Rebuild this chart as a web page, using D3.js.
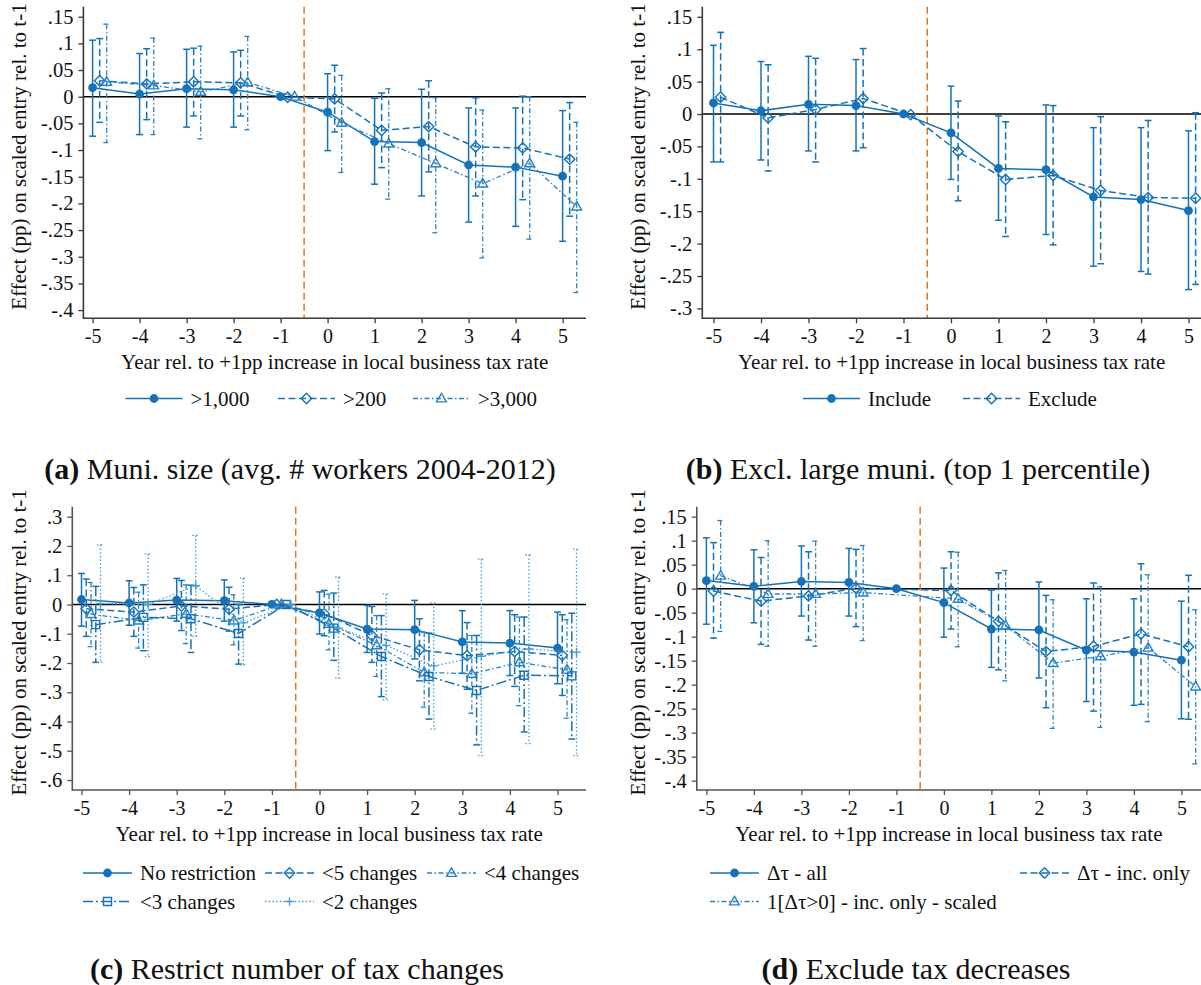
<!DOCTYPE html>
<html>
<head>
<meta charset="utf-8">
<script src="https://cdn.jsdelivr.net/npm/d3@7"></script>
<style>
  body { margin: 0; background: #fff; }
  svg { display: block; }
  text { font-family: "Liberation Serif", "Times New Roman", serif; fill: #111; }
</style>
</head>
<body>
<svg id="fig" width="1201" height="985"></svg>
<script>
// Event-time grid and axis labels
const years = [-5, -4, -3, -2, -1, 0, 1, 2, 3, 4, 5];
const xTickLabels = ["-5", "-4", "-3", "-2", "-1", "0", "1", "2", "3", "4", "5"];

const yTicksA = [0.15, 0.1, 0.05, 0, -0.05, -0.1, -0.15, -0.2, -0.25, -0.3, -0.35, -0.4];
const yLabelsA = [".15", ".1", ".05", "0", "-.05", "-.1", "-.15", "-.2", "-.25", "-.3", "-.35", "-.4"];
const yTicksB = [0.15, 0.1, 0.05, 0, -0.05, -0.1, -0.15, -0.2, -0.25, -0.3];
const yLabelsB = [".15", ".1", ".05", "0", "-.05", "-.1", "-.15", "-.2", "-.25", "-.3"];
const yTicksC = [0.3, 0.2, 0.1, 0, -0.1, -0.2, -0.3, -0.4, -0.5, -0.6];
const yLabelsC = [".3", ".2", ".1", "0", "-.1", "-.2", "-.3", "-.4", "-.5", "-.6"];
const yTicksD = [0.15, 0.1, 0.05, 0, -0.05, -0.1, -0.15, -0.2, -0.25, -0.3, -0.35, -0.4];
const yLabelsD = [".15", ".1", ".05", "0", "-.05", "-.1", "-.15", "-.2", "-.25", "-.3", "-.35", "-.4"];

// Baseline specification (shared by all four panels)
const baseCoef = [0.017, 0.005, 0.015, 0.013, 0, -0.029, -0.084, -0.086, -0.128, -0.132, -0.149];
const baseLo   = [-0.074, -0.071, -0.057, -0.057, null, -0.101, -0.164, -0.186, -0.235, -0.243, -0.271];
const baseHi   = [0.106, 0.081, 0.089, 0.084, null, 0.043, -0.003, 0.014, -0.021, -0.021, -0.026];

// (a) municipality size
const size200Coef = [0.030, 0.024, 0.028, 0.026, -0.001, -0.004, -0.063, -0.056, -0.094, -0.096, -0.117];
const size200Lo   = [-0.048, -0.043, -0.036, -0.036, null, -0.066, -0.133, -0.141, -0.186, -0.193, -0.224];
const size200Hi   = [0.109, 0.090, 0.091, 0.087, null, 0.059, 0.007, 0.030, -0.002, 0.001, -0.011];
const size3000Coef = [0.028, 0.021, 0.009, 0.027, 0, -0.049, -0.088, -0.125, -0.163, -0.125, -0.206];
const size3000Lo   = [-0.086, -0.071, -0.079, -0.062, null, -0.142, -0.192, -0.255, -0.302, -0.267, -0.367];
const size3000Hi   = [0.136, 0.110, 0.095, 0.113, null, 0.040, 0.015, -0.002, -0.025, 0.000, -0.048];

// (b) excluding the largest municipalities
const exclCoef = [0.026, -0.006, 0.007, 0.024, -0.001, -0.058, -0.101, -0.095, -0.118, -0.129, -0.130];
const exclLo   = [-0.074, -0.088, -0.074, -0.052, null, -0.134, -0.189, -0.202, -0.231, -0.247, -0.263];
const exclHi   = [0.126, 0.076, 0.086, 0.101, null, 0.020, -0.012, 0.013, -0.004, -0.010, 0.002];

// (c) restricting the number of tax changes
const chg5Coef = [-0.015, -0.026, -0.005, -0.016, 0, -0.032, -0.106, -0.155, -0.175, -0.161, -0.174];
const chg5Lo   = [-0.109, -0.109, -0.089, -0.091, null, -0.107, -0.198, -0.261, -0.290, -0.280, -0.311];
const chg5Hi   = [0.087, 0.058, 0.082, 0.059, null, 0.048, -0.007, -0.049, -0.062, -0.035, -0.035];
const chg4Coef = [-0.033, -0.055, -0.032, -0.055, 0, -0.066, -0.140, -0.232, -0.237, -0.198, -0.223];
const chg4Lo   = [-0.144, -0.149, -0.134, -0.138, null, -0.155, -0.246, -0.351, -0.372, -0.346, -0.389];
const chg4Hi   = [0.075, 0.042, 0.067, 0.033, null, 0.035, -0.038, -0.095, -0.106, -0.043, -0.052];
const chg3Coef = [-0.069, -0.044, -0.049, -0.099, 0, -0.081, -0.178, -0.246, -0.294, -0.242, -0.244];
const chg3Lo   = [-0.198, -0.158, -0.164, -0.204, null, -0.191, -0.315, -0.392, -0.480, -0.436, -0.460];
const chg3Hi   = [0.062, 0.067, 0.066, 0.000, null, 0.039, -0.038, -0.098, -0.106, -0.043, -0.030];
const chg2Coef = [0.003, 0.000, 0.064, -0.063, 0, -0.081, -0.140, -0.210, -0.177, -0.152, -0.163];
const chg2Lo   = [-0.198, -0.178, -0.109, -0.206, null, -0.252, -0.326, -0.426, -0.517, -0.476, -0.517];
const chg2Hi   = [0.204, 0.173, 0.236, 0.090, null, 0.093, 0.036, 0.005, 0.155, 0.170, 0.189];

// (d) excluding tax decreases
const incCoef = [-0.005, -0.026, -0.015, 0.001, null, -0.004, -0.068, -0.131, -0.120, -0.094, -0.121];
const incLo   = [-0.103, -0.116, -0.107, -0.079, null, -0.084, -0.169, -0.248, -0.255, -0.241, -0.272];
const incHi   = [0.096, 0.065, 0.077, 0.082, null, 0.077, 0.033, -0.014, 0.012, 0.052, 0.028];
const indCoef = [0.027, -0.011, -0.011, -0.008, null, -0.021, -0.077, -0.155, -0.141, -0.123, -0.204];
const indLo   = [-0.089, -0.120, -0.120, -0.108, null, -0.121, -0.192, -0.291, -0.289, -0.277, -0.365];
const indHi   = [0.142, 0.100, 0.099, 0.090, null, 0.076, 0.038, -0.023, 0.004, 0.029, -0.044];

const legendA = [">1,000", ">200", ">3,000"];
const legendB = ["Include", "Exclude"];
const legendC = ["No restriction", "<5 changes", "<4 changes", "<3 changes", "<2 changes"];
const legendD = ["\u0394\u03c4 - all", "\u0394\u03c4 - inc. only", "1[\u0394\u03c4>0] - inc. only - scaled"];

const xTitle = "Year rel. to +1pp increase in local business tax rate";
const yTitle = "Effect (pp) on scaled entry rel. to t-1";

// ---------------------------------------------------------------
const BLUE = "#1572b8";
const ORANGE = "#e5731f";
const lineStyles = {
  solid:       { dash: null,               width: 1.5, color: BLUE },
  dash:        { dash: "7,3.5",            width: 1.5, color: BLUE },
  dashdot:     { dash: "5,2.5,1.5,2.5",    width: 1.3, color: "#2a82c4" },
  longdashdot: { dash: "10,3,2,3",         width: 1.5, color: BLUE },
  dot:         { dash: "1.5,2.2",          width: 1.3, color: "#4c9ad3" }
};

const svg = d3.select("#fig");

function drawMarker(g, type, cx, cy, color) {
  if (type === "circle") {
    g.append("circle").attr("cx", cx).attr("cy", cy).attr("r", 4.4).attr("fill", color);
    return;
  }
  let d;
  if (type === "diamond") d = `M${cx},${cy - 5.2}L${cx + 5.2},${cy}L${cx},${cy + 5.2}L${cx - 5.2},${cy}Z`;
  if (type === "triangle") d = `M${cx},${cy - 5.2}L${cx + 4.9},${cy + 3.4}L${cx - 4.9},${cy + 3.4}Z`;
  if (type === "square") d = `M${cx - 4},${cy - 4}H${cx + 4}V${cy + 4}H${cx - 4}Z`;
  if (type === "plus") d = `M${cx - 4.3},${cy}H${cx + 4.3}M${cx},${cy - 4.3}V${cy + 4.3}`;
  g.append("path").attr("d", d).attr("fill", "none").attr("stroke", color).attr("stroke-width", 1.4);
}

function drawPanel(p) {
  const g = svg.append("g");
  const x = d3.scaleLinear().domain([-5, 5]).range(p.xRange);
  const y = d3.scaleLinear().domain(p.yDomain).range(p.yRange);

  // reference lines
  g.append("line").attr("x1", p.axisX).attr("x2", p.right)
    .attr("y1", y(0)).attr("y2", y(0)).attr("stroke", "#000").attr("stroke-width", 1.4);
  g.append("line").attr("x1", x(-0.5)).attr("x2", x(-0.5))
    .attr("y1", p.top).attr("y2", p.bottom)
    .attr("stroke", ORANGE).attr("stroke-width", 1.5).attr("stroke-dasharray", "7,4");

  // axes
  const yAxis = d3.axisLeft(y).tickValues(p.yTicks)
    .tickFormat((d, i) => p.yLabels[i]).tickSize(5).tickPadding(5).tickSizeOuter(0);
  const ya = g.append("g").attr("transform", `translate(${p.axisX},0)`).call(yAxis);
  ya.select(".domain").remove();
  ya.selectAll("line").attr("stroke", p.axisColor).attr("stroke-width", 1.3);
  ya.selectAll("text").attr("font-size", 20.5).attr("fill", "#111");

  const xAxis = d3.axisBottom(x).tickValues(years)
    .tickFormat((d, i) => xTickLabels[i]).tickSize(5).tickPadding(6).tickSizeOuter(0);
  const xa = g.append("g").attr("transform", `translate(0,${p.bottom})`).call(xAxis);
  xa.select(".domain").remove();
  xa.selectAll("line").attr("stroke", p.axisColor).attr("stroke-width", 1.3);
  xa.selectAll("text").attr("font-size", 20).attr("fill", "#111");

  g.append("line").attr("x1", p.axisX).attr("x2", p.axisX)
    .attr("y1", p.top).attr("y2", p.bottom + 0.7)
    .attr("stroke", p.axisColor).attr("stroke-width", 1.6);
  g.append("line").attr("x1", p.axisX).attr("x2", p.right)
    .attr("y1", p.bottom).attr("y2", p.bottom)
    .attr("stroke", p.axisColor).attr("stroke-width", 1.6);

  // titles
  g.append("text").attr("x", (p.axisX + p.right) / 2).attr("y", p.bottom + 51)
    .attr("text-anchor", "middle").attr("font-size", 21).text(xTitle);
  g.append("text")
    .attr("transform", `translate(${p.yTitleX},${(p.top + p.bottom) / 2 - 6}) rotate(-90)`)
    .attr("text-anchor", "middle").attr("dominant-baseline", "central")
    .attr("font-size", 21).text(yTitle);

  // series: confidence bars, connecting line, markers
  p.series.forEach(s => {
    const st = lineStyles[s.style];
    const sg = g.append("g");
    years.forEach((t, i) => {
      if (s.lo[i] == null || s.hi[i] == null) return;
      const cx = x(t + s.offset);
      const bar = sg.append("g").attr("stroke", st.color).attr("stroke-width", st.width)
        .attr("stroke-dasharray", st.dash);
      bar.append("line").attr("x1", cx).attr("x2", cx).attr("y1", y(s.hi[i])).attr("y2", y(s.lo[i]));
      bar.append("line").attr("x1", cx - 3.4).attr("x2", cx + 3.4).attr("y1", y(s.hi[i])).attr("y2", y(s.hi[i]))
        .attr("stroke-dasharray", null);
      bar.append("line").attr("x1", cx - 3.4).attr("x2", cx + 3.4).attr("y1", y(s.lo[i])).attr("y2", y(s.lo[i]))
        .attr("stroke-dasharray", null);
    });
    const pts = years.map((t, i) => [t + s.offset, s.coef[i]]).filter(d => d[1] != null);
    const line = d3.line().x(d => x(d[0])).y(d => y(d[1]));
    sg.append("path").attr("d", line(pts)).attr("fill", "none")
      .attr("stroke", st.color).attr("stroke-width", st.width)
      .attr("stroke-dasharray", st.dash);
    pts.forEach(d => drawMarker(sg, s.marker, x(d[0]), y(d[1]), st.color));
  });

  // legend
  p.legend.forEach(item => {
    const s = p.series[item.k];
    const st = lineStyles[s.style];
    const lg = g.append("g");
    lg.append("line").attr("x1", item.x).attr("x2", item.x + p.keyLen)
      .attr("y1", item.y).attr("y2", item.y)
      .attr("stroke", st.color).attr("stroke-width", st.width).attr("stroke-dasharray", st.dash);
    drawMarker(lg, s.marker, item.x + p.keyLen / 2, item.y, st.color);
    lg.append("text").attr("x", item.x + p.keyLen + 8).attr("y", item.y + 7)
      .attr("font-size", 21).text(item.label);
  });

  // caption
  const cap = g.append("text").attr("x", p.capX).attr("y", p.capY)
    .attr("text-anchor", "middle").attr("font-size", 30);
  cap.append("tspan").attr("font-weight", "bold").text(p.capTag);
  cap.append("tspan").text(" " + p.capText);
}

// (a)
drawPanel({
  xRange: [92.6, 562.6], axisX: 83.4, right: 586, top: 6.7, bottom: 318.3,
  yDomain: [0.15, -0.4], yRange: [16.7, 310.1], yTicks: yTicksA, yLabels: yLabelsA,
  yTitleX: 19, axisColor: "#3a3a3a",
  series: [
    { coef: baseCoef, lo: baseLo, hi: baseHi, offset: 0, style: "solid", marker: "circle" },
    { coef: size200Coef, lo: size200Lo, hi: size200Hi, offset: 0.15, style: "dash", marker: "diamond" },
    { coef: size3000Coef, lo: size3000Lo, hi: size3000Hi, offset: 0.3, style: "dashdot", marker: "triangle" }
  ],
  keyLen: 57,
  legend: [
    { k: 0, label: legendA[0], x: 125.5, y: 398.5 },
    { k: 1, label: legendA[1], x: 278, y: 398.5 },
    { k: 2, label: legendA[2], x: 413, y: 398.5 }
  ],
  capX: 300, capY: 479, capTag: "(a)", capText: "Muni. size (avg. # workers 2004-2012)"
});

// (b)
drawPanel({
  xRange: [713.5, 1188.5], axisX: 702.3, right: 1201, top: 6.7, bottom: 318.3,
  yDomain: [0.15, -0.3], yRange: [16.8, 308.4], yTicks: yTicksB, yLabels: yLabelsB,
  yTitleX: 638, axisColor: "#3a3a3a",
  series: [
    { coef: baseCoef, lo: baseLo, hi: baseHi, offset: 0, style: "solid", marker: "circle" },
    { coef: exclCoef, lo: exclLo, hi: exclHi, offset: 0.15, style: "dash", marker: "diamond" }
  ],
  keyLen: 57,
  legend: [
    { k: 0, label: legendB[0], x: 803, y: 398.5 },
    { k: 1, label: legendB[1], x: 963, y: 398.5 }
  ],
  capX: 918, capY: 479, capTag: "(b)", capText: "Excl. large muni. (top 1 percentile)"
});

// (c)
drawPanel({
  xRange: [81.5, 557.5], axisX: 72.3, right: 586, top: 506.7, bottom: 790,
  yDomain: [0.3, -0.6], yRange: [516.7, 780], yTicks: yTicksC, yLabels: yLabelsC,
  yTitleX: 19, axisColor: "#555",
  series: [
    { coef: baseCoef, lo: baseLo, hi: baseHi, offset: 0, style: "solid", marker: "circle" },
    { coef: chg5Coef, lo: chg5Lo, hi: chg5Hi, offset: 0.1, style: "dash", marker: "diamond" },
    { coef: chg4Coef, lo: chg4Lo, hi: chg4Hi, offset: 0.2, style: "dashdot", marker: "triangle" },
    { coef: chg3Coef, lo: chg3Lo, hi: chg3Hi, offset: 0.3, style: "longdashdot", marker: "square" },
    { coef: chg2Coef, lo: chg2Lo, hi: chg2Hi, offset: 0.4, style: "dot", marker: "plus" }
  ],
  keyLen: 49,
  legend: [
    { k: 0, label: legendC[0], x: 83, y: 873 },
    { k: 1, label: legendC[1], x: 265, y: 873 },
    { k: 2, label: legendC[2], x: 427, y: 873 },
    { k: 3, label: legendC[3], x: 83, y: 901.5 },
    { k: 4, label: legendC[4], x: 265, y: 901.5 }
  ],
  capX: 297, capY: 979, capTag: "(c)", capText: "Restrict number of tax changes"
});

// (d)
drawPanel({
  xRange: [706.4, 1181.4], axisX: 696.8, right: 1201, top: 506.7, bottom: 790,
  yDomain: [0.15, -0.4], yRange: [516.7, 780.7], yTicks: yTicksD, yLabels: yLabelsD,
  yTitleX: 638, axisColor: "#555",
  series: [
    { coef: baseCoef, lo: baseLo, hi: baseHi, offset: 0, style: "solid", marker: "circle" },
    { coef: incCoef, lo: incLo, hi: incHi, offset: 0.15, style: "dash", marker: "diamond" },
    { coef: indCoef, lo: indLo, hi: indHi, offset: 0.3, style: "dashdot", marker: "triangle" }
  ],
  keyLen: 49,
  legend: [
    { k: 0, label: legendD[0], x: 710, y: 873 },
    { k: 1, label: legendD[1], x: 1020, y: 873 },
    { k: 2, label: legendD[2], x: 710, y: 901.5 }
  ],
  capX: 916, capY: 979, capTag: "(d)", capText: "Exclude tax decreases"
});
</script>
</body>
</html>
